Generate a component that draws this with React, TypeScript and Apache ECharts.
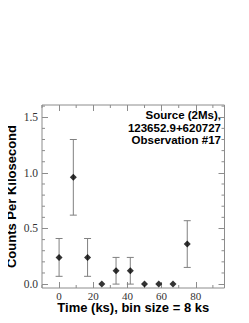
import React, { useEffect, useRef } from "react";
import * as echarts from "echarts";

const timeKs = [0, 8.33, 16.67, 25, 33.33, 41.67, 50, 58.33, 66.67, 75];
const rate = [0.24, 0.96, 0.24, 0, 0.12, 0.12, 0, 0, 0, 0.36];
const errLow = [0.07, 0.62, 0.07, null, 0.0, 0.0, null, null, null, 0.15];
const errHigh = [0.41, 1.3, 0.41, null, 0.24, 0.24, null, null, null, 0.57];

const xMajor = [0, 20, 40, 60, 80];
const xMinor = [-10, 10, 30, 50, 70, 90];
const yMajor = [0, 0.5, 1.0, 1.5];
const yMinor = [0.1, 0.2, 0.3, 0.4, 0.6, 0.7, 0.8, 0.9, 1.1, 1.2, 1.3, 1.4, 1.6];

const titleLines = ["Source (2Ms),", "123652.9+620727", "Observation #17"];

const X_MIN = -10;
const X_MAX = 96.8;
const Y_MIN = -0.035;
const Y_MAX = 1.61;

export default function App() {
  const ref = useRef<HTMLDivElement>(null);
  useEffect(() => {
    if (!ref.current) return;
    const chart = echarts.init(ref.current, null, { renderer: "svg" });
    const frame = "#8c8c8c";
    const labelStyle = {
      fontFamily: "Liberation Serif",
      fontSize: 11.5,
      color: "#333",
    };
    const nameStyle = { fontFamily: "Liberation Sans", fontWeight: "bold", fontSize: 13, color: "#000" };
    const mkX = (pos: string, withLabel: boolean, name?: string) => ({
      type: "value",
      position: pos,
      min: X_MIN,
      max: X_MAX,
      axisLine: { show: false, onZero: false },
      splitLine: { show: false },
      axisTick: { show: true, inside: true, length: 6, customValues: xMajor, lineStyle: { color: frame, width: 1 } },
      axisLabel: withLabel
        ? { show: true, customValues: xMajor, margin: 2, lineHeight: 11, ...labelStyle, fontSize: 11 }
        : { show: false },
      name: name,
      nameLocation: "middle",
      nameGap: 13.5,
      nameMoveOverlap: false,
      nameTextStyle: { ...nameStyle, lineHeight: 12 },
    });
    const mkY = (pos: string, withLabel: boolean, name?: string) => ({
      type: "value",
      position: pos,
      min: Y_MIN,
      max: Y_MAX,
      axisLine: { show: false, onZero: false },
      splitLine: { show: false },
      axisTick: { show: true, inside: true, length: 6, customValues: yMajor, lineStyle: { color: frame, width: 1 } },
      axisLabel: withLabel
        ? {
            show: true,
            customValues: yMajor,
            margin: 4,
            formatter: (v: number) => v.toFixed(1),
            ...labelStyle,
          }
        : { show: false },
      name: name,
      nameLocation: "middle",
      nameGap: 24,
      nameMoveOverlap: false,
      nameTextStyle: nameStyle,
    });

    const errData = timeKs
      .map((t, i) => [t, errLow[i], errHigh[i]])
      .filter((d) => d[1] !== null);

    const minorLen = 3;
    const tickStyle = { stroke: frame, lineWidth: 1 };

    chart.setOption({
      animation: false,
      grid: {
        left: 42,
        top: 105,
        width: 182.5,
        height: 183,
        show: true,
        borderColor: frame,
        borderWidth: 1,
        backgroundColor: "transparent",
        containLabel: false,
        outerBoundsMode: "none",
      },
      xAxis: [mkX("bottom", true, "Time (ks), bin size = 8 ks"), mkX("top", false)],
      yAxis: [mkY("left", true, "Counts Per Kilosecond"), mkY("right", false)],
      graphic: titleLines.map((t, i) => ({
        type: "text",
        right: 28,
        top: 109 + i * 12.7,
        style: {
          text: t,
          font: "bold 11.5px 'Liberation Sans'",
          fill: "#000",
          textAlign: "right",
        },
      })),
      series: [
        {
          type: "custom",
          xAxisIndex: 0,
          yAxisIndex: 0,
          data: xMinor.map((v) => [v]),
          silent: true,
          clip: false,
          renderItem: (params: any, api: any) => {
            const cs = params.coordSys;
            const p = api.coord([api.value(0), Y_MIN]);
            return {
              type: "group",
              children: [
                { type: "line", shape: { x1: p[0], y1: cs.y + cs.height, x2: p[0], y2: cs.y + cs.height - minorLen }, style: tickStyle },
                { type: "line", shape: { x1: p[0], y1: cs.y, x2: p[0], y2: cs.y + minorLen }, style: tickStyle },
              ],
            };
          },
        },
        {
          type: "custom",
          xAxisIndex: 0,
          yAxisIndex: 0,
          data: yMinor.map((v) => [X_MIN, v]),
          silent: true,
          clip: false,
          renderItem: (params: any, api: any) => {
            const cs = params.coordSys;
            const p = api.coord([X_MIN, api.value(1)]);
            return {
              type: "group",
              children: [
                { type: "line", shape: { x1: cs.x, y1: p[1], x2: cs.x + minorLen, y2: p[1] }, style: tickStyle },
                { type: "line", shape: { x1: cs.x + cs.width, y1: p[1], x2: cs.x + cs.width - minorLen, y2: p[1] }, style: tickStyle },
              ],
            };
          },
        },
        {
          type: "custom",
          xAxisIndex: 0,
          yAxisIndex: 0,
          data: errData,
          renderItem: (params: any, api: any) => {
            const x = api.value(0);
            const lo = api.coord([x, api.value(1)]);
            const hi = api.coord([x, api.value(2)]);
            const cap = 3.5;
            const style = { stroke: "#808080", lineWidth: 1 };
            return {
              type: "group",
              children: [
                { type: "line", shape: { x1: lo[0], y1: lo[1], x2: hi[0], y2: hi[1] }, style },
                { type: "line", shape: { x1: lo[0] - cap, y1: lo[1], x2: lo[0] + cap, y2: lo[1] }, style },
                { type: "line", shape: { x1: hi[0] - cap, y1: hi[1], x2: hi[0] + cap, y2: hi[1] }, style },
              ],
            };
          },
          z: 2,
        },
        {
          type: "scatter",
          xAxisIndex: 0,
          yAxisIndex: 0,
          data: timeKs.map((t, i) => [t, rate[i]]),
          symbol: "diamond",
          symbolSize: 7,
          itemStyle: { color: "#000" },
          z: 3,
        },
      ],
    });
    return () => chart.dispose();
  }, []);
  return <div ref={ref} style={{ width: 249, height: 323, margin: -8 }} />;
}
